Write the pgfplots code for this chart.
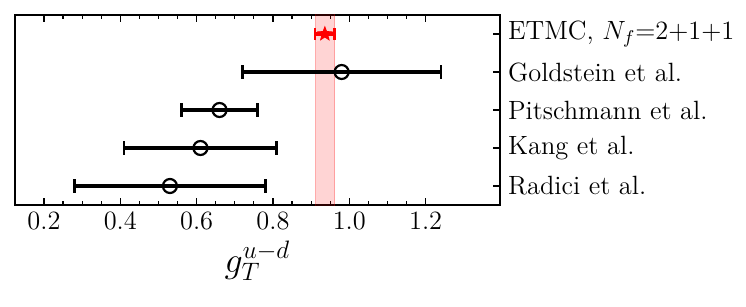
\documentclass[border=0pt]{standalone}
\usepackage{pgfplots}
\pgfplotsset{compat=1.18}
\usepackage{fix-cm}
\pgfdeclareplotmark{fstar}{%
  \pgfpathmoveto{\pgfpointpolar{90}{\pgfplotmarksize}}%
  \pgfpathlineto{\pgfpointpolar{126}{0.42\pgfplotmarksize}}%
  \pgfpathlineto{\pgfpointpolar{162}{\pgfplotmarksize}}%
  \pgfpathlineto{\pgfpointpolar{198}{0.42\pgfplotmarksize}}%
  \pgfpathlineto{\pgfpointpolar{234}{\pgfplotmarksize}}%
  \pgfpathlineto{\pgfpointpolar{270}{0.42\pgfplotmarksize}}%
  \pgfpathlineto{\pgfpointpolar{306}{\pgfplotmarksize}}%
  \pgfpathlineto{\pgfpointpolar{342}{0.42\pgfplotmarksize}}%
  \pgfpathlineto{\pgfpointpolar{18}{\pgfplotmarksize}}%
  \pgfpathlineto{\pgfpointpolar{54}{0.42\pgfplotmarksize}}%
  \pgfpathclose
  \pgfusepathqfillstroke
}
\begin{document}
\begin{tikzpicture}
\begin{axis}[
  name=ax,
  scale only axis,
  width=242.5pt, height=95pt,
  xmin=0.124, xmax=1.395,
  ymin=-0.5, ymax=4.5,
  xtick={0.2,0.4,0.6,0.8,1.0,1.2},
  minor x tick num=3,
  xtick pos=both,
  ytick={0,1,2,3,4},
  yticklabels={Radici et al., Kang et al., Pitschmann et al., Goldstein et al., {ETMC, $N_f{=}2{+}1{+}1$}},
  ytick pos=right,
  yticklabel pos=right,
  tick align=inside,
  major tick length=3.5pt,
  minor tick length=2pt,
  tick style={black, line width=0.6pt},
  axis line style={line width=0.8pt},
  xticklabel style={font=\fontsize{13.2}{15}\selectfont},
  yticklabel style={font=\fontsize{13.2}{15}\selectfont, xshift=0.5pt},
  /pgf/number format/.cd, fixed, fixed zerofill, precision=1,
  /pgfplots/.cd,
  xlabel={$g_T^{u-d}$},
  xlabel style={font=\fontsize{18}{21}\selectfont, yshift=1pt},
  clip=true,
]
% ETMC band
\addplot [fill=red, fill opacity=0.17, draw=red, draw opacity=0.25, line width=0.6pt]
  coordinates {(0.911,-1) (0.911,5) (0.962,5) (0.962,-1) (0.911,-1)};
% literature points
\addplot [only marks, black, line width=1.6pt,
  mark=o, mark size=3.5pt, mark options={fill=white, draw=black, line width=1.1pt},
  error bars/.cd, x dir=both, x explicit, error mark=|,
  error bar style={line width=1.6pt, black},
  error mark options={mark size=3.3pt, line width=1.3pt}]
  coordinates {
  (0.53,0) +- (0.25,0)
  (0.61,1) +- (0.20,0)
  (0.66,2) +- (0.10,0)
  (0.98,3) +- (0.26,0)
  };
% ETMC
\addplot [only marks, red, mark=fstar, mark size=3.6pt,
  mark options={line width=0.4pt, fill=red, draw=red},
  error bars/.cd, x dir=both, x explicit, error mark=|,
  error bar style={line width=1.6pt, red},
  error mark options={mark size=2.8pt, line width=1.3pt, red}]
  coordinates {(0.936,4) +- (0.0255,0)};
\end{axis}
\path ([shift={(-7.5pt,7.5pt)}]ax.north west) rectangle ([shift={(123pt,-50.5pt)}]ax.south east);
\end{tikzpicture}
\end{document}
